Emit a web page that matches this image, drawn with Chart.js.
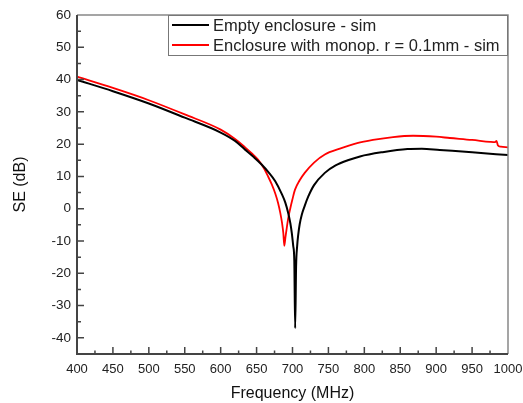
<!DOCTYPE html>
<html>
<head>
<meta charset="utf-8">
<script src="https://cdn.jsdelivr.net/npm/chart.js@4"></script>
<style>
    body { margin: 0; background: #fff; }
    #wrap { width: 523px; height: 403px; }
</style>
</head>
<body>
<div id="wrap"><canvas id="chartSE" width="523" height="403"></canvas></div>
<script>
// values
const freqEmpty = [400, 450, 500, 550, 600, 620, 634, 646, 657, 667, 676, 685, 690, 694, 697, 699, 701, 702.5, 703.7,
    705, 706.5, 708, 710, 713, 717, 722, 730, 745, 760, 777, 794, 825, 860, 880, 905, 950, 1000];
const seEmpty = [39.9, 36.4, 32.6, 28.2, 23.6, 21.0, 18.3, 16.0, 13.7, 11.2, 8.5, 4.6, 1.9, -1.3, -4.5, -7.5, -11.5, -16.0, -37.0,
    -18.0, -11.5, -8.0, -4.8, -1.8, 0.9, 3.8, 7.3, 11.1, 13.4, 15.0, 16.2, 17.5, 18.5, 18.6, 18.2, 17.5, 16.6];

const freqMonop = [400, 450, 500, 550, 600, 620, 634, 643, 652, 660, 666, 671, 676, 680, 683, 685.5, 687.2, 688.6,
    690.2, 692, 694, 696.5, 700, 703.5, 710, 717, 730, 745, 766, 790, 812, 840, 868, 900, 919, 950, 975, 982, 984, 986, 990, 1000];
const seMonop = [40.9, 37.4, 33.6, 29.2, 24.5, 21.6, 19.0, 17.2, 15.2, 12.6, 10.0, 7.6, 4.7, 1.7, -1.3, -4.5, -7.5, -11.5,
    -8.8, -6.0, -3.0, -0.3, 3.0, 5.9, 8.8, 11.1, 14.3, 16.8, 18.6, 20.3, 21.3, 22.2, 22.6, 22.3, 21.9, 21.3, 20.7, 20.6, 21.0, 19.6, 19.2, 19.0];

const xTicks = [400, 450, 500, 550, 600, 650, 700, 750, 800, 850, 900, 950, 1000];
const yTicks = [-40, -30, -20, -10, 0, 10, 20, 30, 40, 50, 60];

const labels = ["Empty enclosure - sim", "Enclosure with monop. r = 0.1mm - sim"];

function pts(xs, ys) {
    return xs.map((x, i) => ({ x: x, y: ys[i] }));
}

// box, inward ticks and the legend inside the plot
const frame = {
    id: "frame",
    afterDraw(chart) {
        const ctx = chart.ctx;
        const a = chart.chartArea;
        const xs = chart.scales.x, ys = chart.scales.y;
        ctx.save();
        ctx.strokeStyle = "#888";
        ctx.lineWidth = 1.5;
        ctx.beginPath();
        ctx.moveTo(a.left, a.top); ctx.lineTo(a.right, a.top); ctx.lineTo(a.right, a.bottom);
        ctx.stroke();
        ctx.strokeStyle = "#444";
        ctx.lineWidth = 2;
        ctx.beginPath();
        ctx.moveTo(a.left, a.top); ctx.lineTo(a.left, a.bottom); ctx.lineTo(a.right, a.bottom);
        ctx.stroke();
        ctx.lineWidth = 1.5;
        ctx.beginPath();
        for (let v = 400; v < 1000; v += 25) {
            const p = xs.getPixelForValue(v);
            const len = v % 50 === 0 ? 7 : 3.5;
            ctx.moveTo(p, a.bottom); ctx.lineTo(p, a.bottom - len);
        }
        for (let v = -40; v < 60; v += 5) {
            const p = ys.getPixelForValue(v);
            const len = v % 10 === 0 ? 7 : 4;
            ctx.moveTo(a.left, p); ctx.lineTo(a.left + len, p);
        }
        ctx.stroke();

        // legend
        const bx = 168, by = a.top, bw = a.right - bx, bh = 40;
        ctx.fillStyle = "#fff";
        ctx.fillRect(bx, by, bw, bh);
        ctx.strokeStyle = "#777";
        ctx.lineWidth = 1;
        ctx.strokeRect(bx + 0.5, by + 0.5, bw - 1, bh);
        ctx.font = "16.5px 'Liberation Sans', Arial, sans-serif";
        ctx.textBaseline = "middle";
        chart.data.datasets.forEach((ds, i) => {
            const y = by + 10 + i * 20;
            ctx.strokeStyle = ds.borderColor;
            ctx.lineWidth = 2;
            ctx.beginPath();
            ctx.moveTo(bx + 4, y); ctx.lineTo(bx + 41, y);
            ctx.stroke();
            ctx.fillStyle = "#222";
            ctx.fillText(ds.label, bx + 45, y + 1);
        });
        ctx.restore();
    }
};

new Chart(document.getElementById("chartSE"), {
    type: "line",
    data: {
        datasets: [{
            label: labels[0],
            data: pts(freqEmpty, seEmpty),
            borderColor: "#000000",
            borderWidth: 2,
            pointRadius: 0,
            cubicInterpolationMode: "monotone"
        }, {
            label: labels[1],
            data: pts(freqMonop, seMonop),
            borderColor: "#ff0000",
            borderWidth: 1.8,
            pointRadius: 0,
            cubicInterpolationMode: "monotone"
        }]
    },
    options: {
        responsive: false,
        animation: false,
        layout: { padding: { left: 0, top: 15, right: 15, bottom: 0 } },
        plugins: { legend: { display: false }, tooltip: { enabled: false } },
        scales: {
            x: {
                type: "linear",
                min: 400,
                max: 1000,
                afterBuildTicks: s => { s.ticks = xTicks.map(v => ({ value: v })); },
                afterFit: s => { s.height = 49; s.paddingLeft = 0; s.paddingRight = 0; },
                grid: { display: false, drawTicks: false },
                border: { display: false },
                ticks: { padding: 8, color: "#222", font: { size: 13, family: "'Liberation Sans', Arial" }, maxRotation: 0,
                    callback: v => String(v) },
                title: { display: true, text: "Frequency (MHz)", color: "#111", padding: 0,
                    font: { size: 16, family: "'Liberation Sans', Arial" } }
            },
            y: {
                min: -45,
                max: 60,
                afterBuildTicks: s => { s.ticks = yTicks.map(v => ({ value: v })); },
                afterFit: s => { s.width = 77; s.paddingTop = 0; s.paddingBottom = 0; },
                grid: { display: false, drawTicks: false },
                border: { display: false },
                ticks: { padding: 6, color: "#222", font: { size: 13.5, family: "'Liberation Sans', Arial" },
                    callback: v => String(v) },
                title: { display: true, text: "SE (dB)", color: "#111", padding: { top: 11, bottom: 0 },
                    font: { size: 16, family: "'Liberation Sans', Arial" } }
            }
        }
    },
    plugins: [frame]
});
</script>
</body>
</html>
